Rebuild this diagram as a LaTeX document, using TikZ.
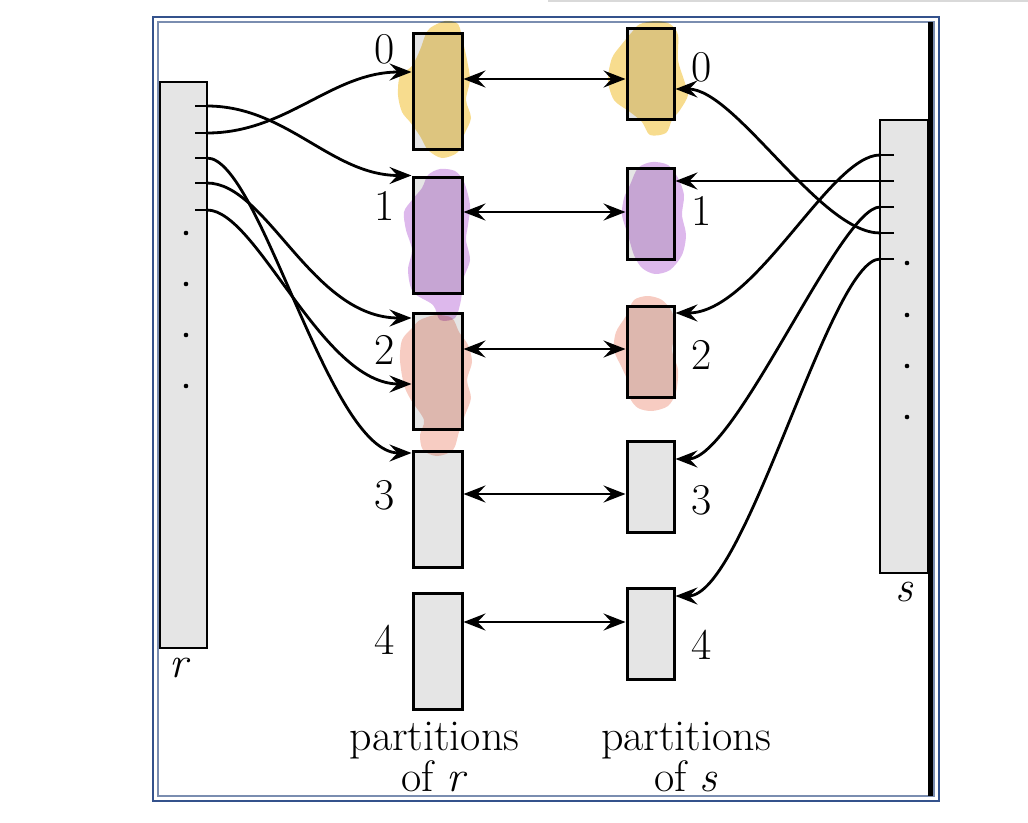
\documentclass[tikz,border=0pt]{standalone}
\usepackage{tikz}
\usetikzlibrary{arrows.meta,positioning}
\definecolor{boxgray}{HTML}{E5E5E5}
\definecolor{framec}{HTML}{34528C}
\definecolor{framelt}{HTML}{7A8DB0}
\definecolor{hlyellow}{HTML}{F7DC8E}
\definecolor{hlpurple}{HTML}{DDB8EC}
\definecolor{hlsalmon}{HTML}{F7CCC2}
\newcommand{\hlblob}[2]{\fill[#1] plot[smooth cycle] coordinates {#2};}

\begin{document}
\begin{tikzpicture}[x=1pt, y=-1pt, font=\fontsize{44}{38}\selectfont,
  part/.style={draw=black, fill=boxgray, line width=3pt, inner sep=0pt},
  rel/.style={draw=black, fill=boxgray, line width=2.6pt, inner sep=0pt},
  conn/.style={line width=2.8pt, -{Stealth[length=22pt,width=17pt,inset=8pt]}},
  pairarrow/.style={line width=2.8pt, {Stealth[length=22pt,width=17pt,inset=8pt]}-{Stealth[length=22pt,width=17pt,inset=8pt]}},
  tick/.style={line width=2.8pt},
  dot/.style={circle, fill=black, inner sep=0pt, minimum size=4.6pt}]
  \useasboundingbox (0,0) rectangle (1028,822);
  \draw[black!15, line width=1.5pt] (548,1) -- (1028,1);
  \draw[framec, line width=2.2pt] (153,17) rectangle (939,801);
  \draw[framelt, line width=1.4pt] (158,22) rectangle (934,796);
  \draw[line width=4.5pt] (930.5,22) -- (930.5,796);

  \node[rel, minimum width=47pt, minimum height=566pt] (r) at (183.5,365) {};
  \node[rel, minimum width=48pt, minimum height=453pt] (s) at (904,346.5) {};
  \node (rlab) at (180,668) {\textit{r}};
  \node (slab) at (905,592) {\textit{s}};
  \foreach \y [count=\k] in {233,284,335,386}{
    \node[dot] (rd\k) at (186,\y) {};}
  \foreach \y [count=\k] in {263,315,366,417}{
    \node[dot] (sd\k) at (907,\y) {};}
  \foreach \y [count=\k] in {106,133,158,183,210}{
    \draw[tick] (195,\y) -- (207,\y) coordinate (rt\k);}
  \foreach \y [count=\k] in {155,181,207,233,259}{
    \draw[tick] (894,\y) -- (880,\y) coordinate (st\k);}

  \foreach \i/\ry/\sy in {0/91/73.5,1/235/213.5,2/371/351.5,3/509/486.5,4/651/633.5}{
    \node[part, minimum width=49pt, minimum height=116pt] (pr\i) at (437.5,\ry) {};
    \node[part, minimum width=47pt, minimum height=91pt] (ps\i) at (650.5,\sy) {};}
  \foreach \i/\ly/\my in {0/49/67,1/206/211,2/350/355,3/495/500,4/640/645}{
    \node[inner sep=0pt] (nr\i) at (385,\ly) {\i};
    \node[inner sep=0pt] (ns\i) at (702,\my) {\i};}

  \begin{scope}[blend mode=multiply]
    \hlblob{hlyellow}{(430,28) (445,21) (458,24) (463,42) (467,60) (470,80) (466,100) (471,118) (464,135) (458,152) (442,158) (428,150) (420,136) (410,122) (402,112) (398,95) (400,76) (412,66) (420,50) (425,36)}
    \hlblob{hlpurple}{(428,175) (440,169) (455,171) (464,182) (470,205) (468,225) (466,240) (470,260) (463,280) (461,300) (455,318) (440,320) (433,305) (413,292) (408,270) (412,250) (406,230) (404,212) (412,200) (422,188)}
    \hlblob{hlsalmon}{(420,320) (436,315) (452,318) (459,332) (468,345) (472,362) (467,380) (471,398) (465,415) (459,432) (453,450) (437,456) (423,450) (420,435) (424,420) (411,400) (404,385) (400,360) (402,340) (412,328)}
    \hlblob{hlyellow}{(640,24) (656,21) (670,24) (678,35) (678,60) (684,80) (688,95) (680,110) (672,120) (666,133) (650,135) (642,122) (630,112) (614,100) (608,80) (612,58) (622,44) (632,32)}
    \hlblob{hlpurple}{(638,168) (652,162) (668,165) (678,178) (684,195) (682,215) (686,235) (682,255) (670,270) (655,274) (642,268) (634,255) (628,235) (622,215) (624,198) (630,185)}
    \hlblob{hlsalmon}{(634,300) (648,296) (662,300) (672,312) (676,330) (672,350) (678,370) (676,392) (668,406) (652,411) (638,408) (630,398) (628,382) (622,368) (614,350) (616,332) (626,316)}
  \end{scope}

  \foreach \i/\dy in {0/-5.5,1/1.5,2/2.5,3/-7.5,4/11.5}{
    \coordinate (m\i) at ([yshift=\dy pt]ps\i.west);
    \draw[pairarrow] (pr\i.east |- m\i) -- (m\i);}

  \draw[conn] (rt1) .. controls +(80,0) and +(-80,0) .. (pr1.north west);
  \draw[conn] (rt2) .. controls +(80,0) and +(-80,0) .. ([yshift=19pt]pr0.west);
  \draw[conn] (rt3) .. controls +(53,0) and +(-83,0) .. ([yshift=56pt]pr3.west);
  \draw[conn] (rt4) .. controls +(60,0) and +(-100,0) .. ([yshift=53pt]pr2.west);
  \draw[conn] (rt5) .. controls +(50,0) and +(-90,0) .. ([yshift=-13pt]pr2.west);

  \draw[conn] (st1) .. controls +(-50,0) and +(80,0) .. ([yshift=38.5pt]ps2.east);
  \draw[conn] (st2) -- ([yshift=32.5pt]ps1.east);
  \draw[conn] (st3) .. controls +(-40,0) and +(60,0) .. ([yshift=27.5pt]ps3.east);
  \draw[conn] (st4) .. controls +(-60,0) and +(60,0) .. ([yshift=-15.5pt]ps0.east);
  \draw[conn] (st5) .. controls +(-50,0) and +(70,0) .. ([yshift=37.5pt]ps4.east);

  \node[align=center, anchor=north, inner sep=0pt] (labr) at (434.5,722) {partitions\\of \textit{r}};
  \node[align=center, anchor=north, inner sep=0pt] (labs) at (686,722) {partitions\\of \textit{s}};
\end{tikzpicture}
\end{document}
